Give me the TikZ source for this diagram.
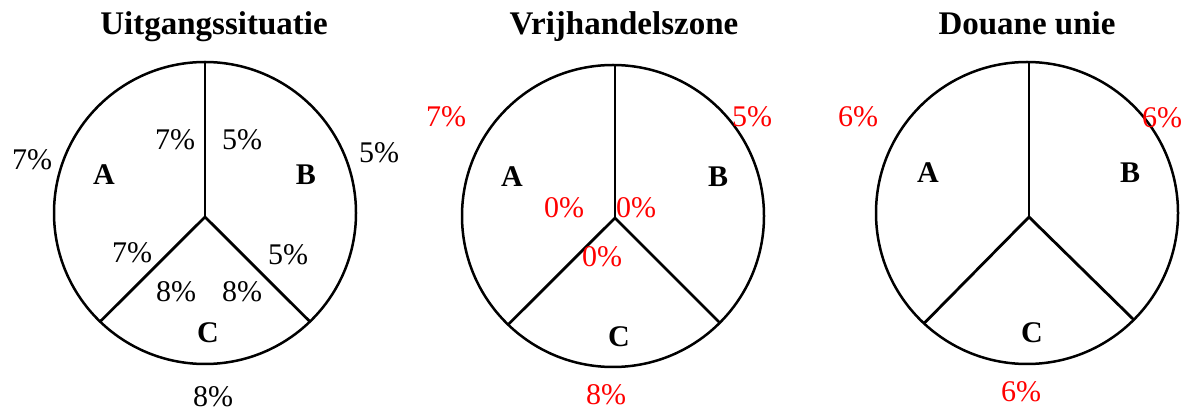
\documentclass[tikz,border=0pt]{standalone}
\usepackage{fontspec}
\setmainfont{Liberation Serif}
\begin{document}
\begin{tikzpicture}[x=1pt,y=-1pt,
  ttl/.style={font=\fontsize{33}{33}\selectfont\bfseries, anchor=base, inner sep=0pt},
  pct/.style={font=\fontsize{30}{30}\selectfont, inner sep=0pt},
  rpct/.style={pct, text={rgb,255:red,255;green,0;blue,0}},
  lbl/.style={font=\fontsize{30}{30}\selectfont\bfseries, inner sep=0pt},
  ring/.style={circle, draw, line width=2.5pt, minimum size=302pt, inner sep=0pt, outer sep=0pt},
  spoke/.style={line width=2.8pt}]
\useasboundingbox (0,0) rectangle (1186,411);

% ---------- Uitgangssituatie ----------
\node[ttl] (t1) at (214,35) {Uitgangssituatie};
\node[ring] (c1) at (205,213) {};
\coordinate (j1) at (205,217);
\draw[spoke] (j1) -- (j1 |- c1.north);
\draw[spoke] (j1) -- (c1.226);
\draw[spoke] (j1) -- (c1.314);
\node[pct] (o1a) at (32,160) {7\%};
\node[pct] (o1b) at (379,153) {5\%};
\node[pct] (o1c) at (213,397) {8\%};
\node[pct] (i1a) at (175,140) {7\%};
\node[pct] (i1b) at (242,140) {5\%};
\node[pct] (i1c) at (132,253) {7\%};
\node[pct] (i1d) at (288,255) {5\%};
\node[pct] (i1e) at (176,292) {8\%};
\node[pct] (i1f) at (242,292) {8\%};
\node[lbl] (a1) at (104,175) {A};
\node[lbl] (b1) at (306,175) {B};
\node[lbl] (cc1) at (208,333) {C};

% ---------- Vrijhandelszone ----------
\node[ttl] (t2) at (624,35) {Vrijhandelszone};
\node[ring] (c2) at (613,216) {};
\coordinate (j2) at (615,218);
\draw[spoke] (j2) -- (j2 |- c2.north);
\draw[spoke] (j2) -- (c2.226);
\draw[spoke] (j2) -- (c2.315);
\node[rpct] (o2a) at (446,117) {7\%};
\node[rpct] (o2b) at (752,117) {5\%};
\node[rpct] (o2c) at (606,395) {8\%};
\node[rpct] (i2a) at (564,208) {0\%};
\node[rpct] (i2b) at (636,208) {0\%};
\node[rpct] (i2c) at (602,257) {0\%};
\node[lbl] (a2) at (512,177) {A};
\node[lbl] (b2) at (718,177) {B};
\node[lbl] (cc2) at (619,337) {C};

% ---------- Douane unie ----------
\node[ttl] (t3) at (1027,35) {Douane unie};
\node[ring] (c3) at (1027,213) {};
\coordinate (j3) at (1029,217);
\draw[spoke] (j3) -- (j3 |- c3.north);
\draw[spoke] (j3) -- (c3.227);
\draw[spoke] (j3) -- (c3.315);
\node[rpct] (o3a) at (858,117) {6\%};
\node[rpct] (o3b) at (1162,118) {6\%};
\node[rpct] (o3c) at (1021,392) {6\%};
\node[lbl] (a3) at (928,173) {A};
\node[lbl] (b3) at (1130,173) {B};
\node[lbl] (cc3) at (1032,333) {C};
\end{tikzpicture}
\end{document}
